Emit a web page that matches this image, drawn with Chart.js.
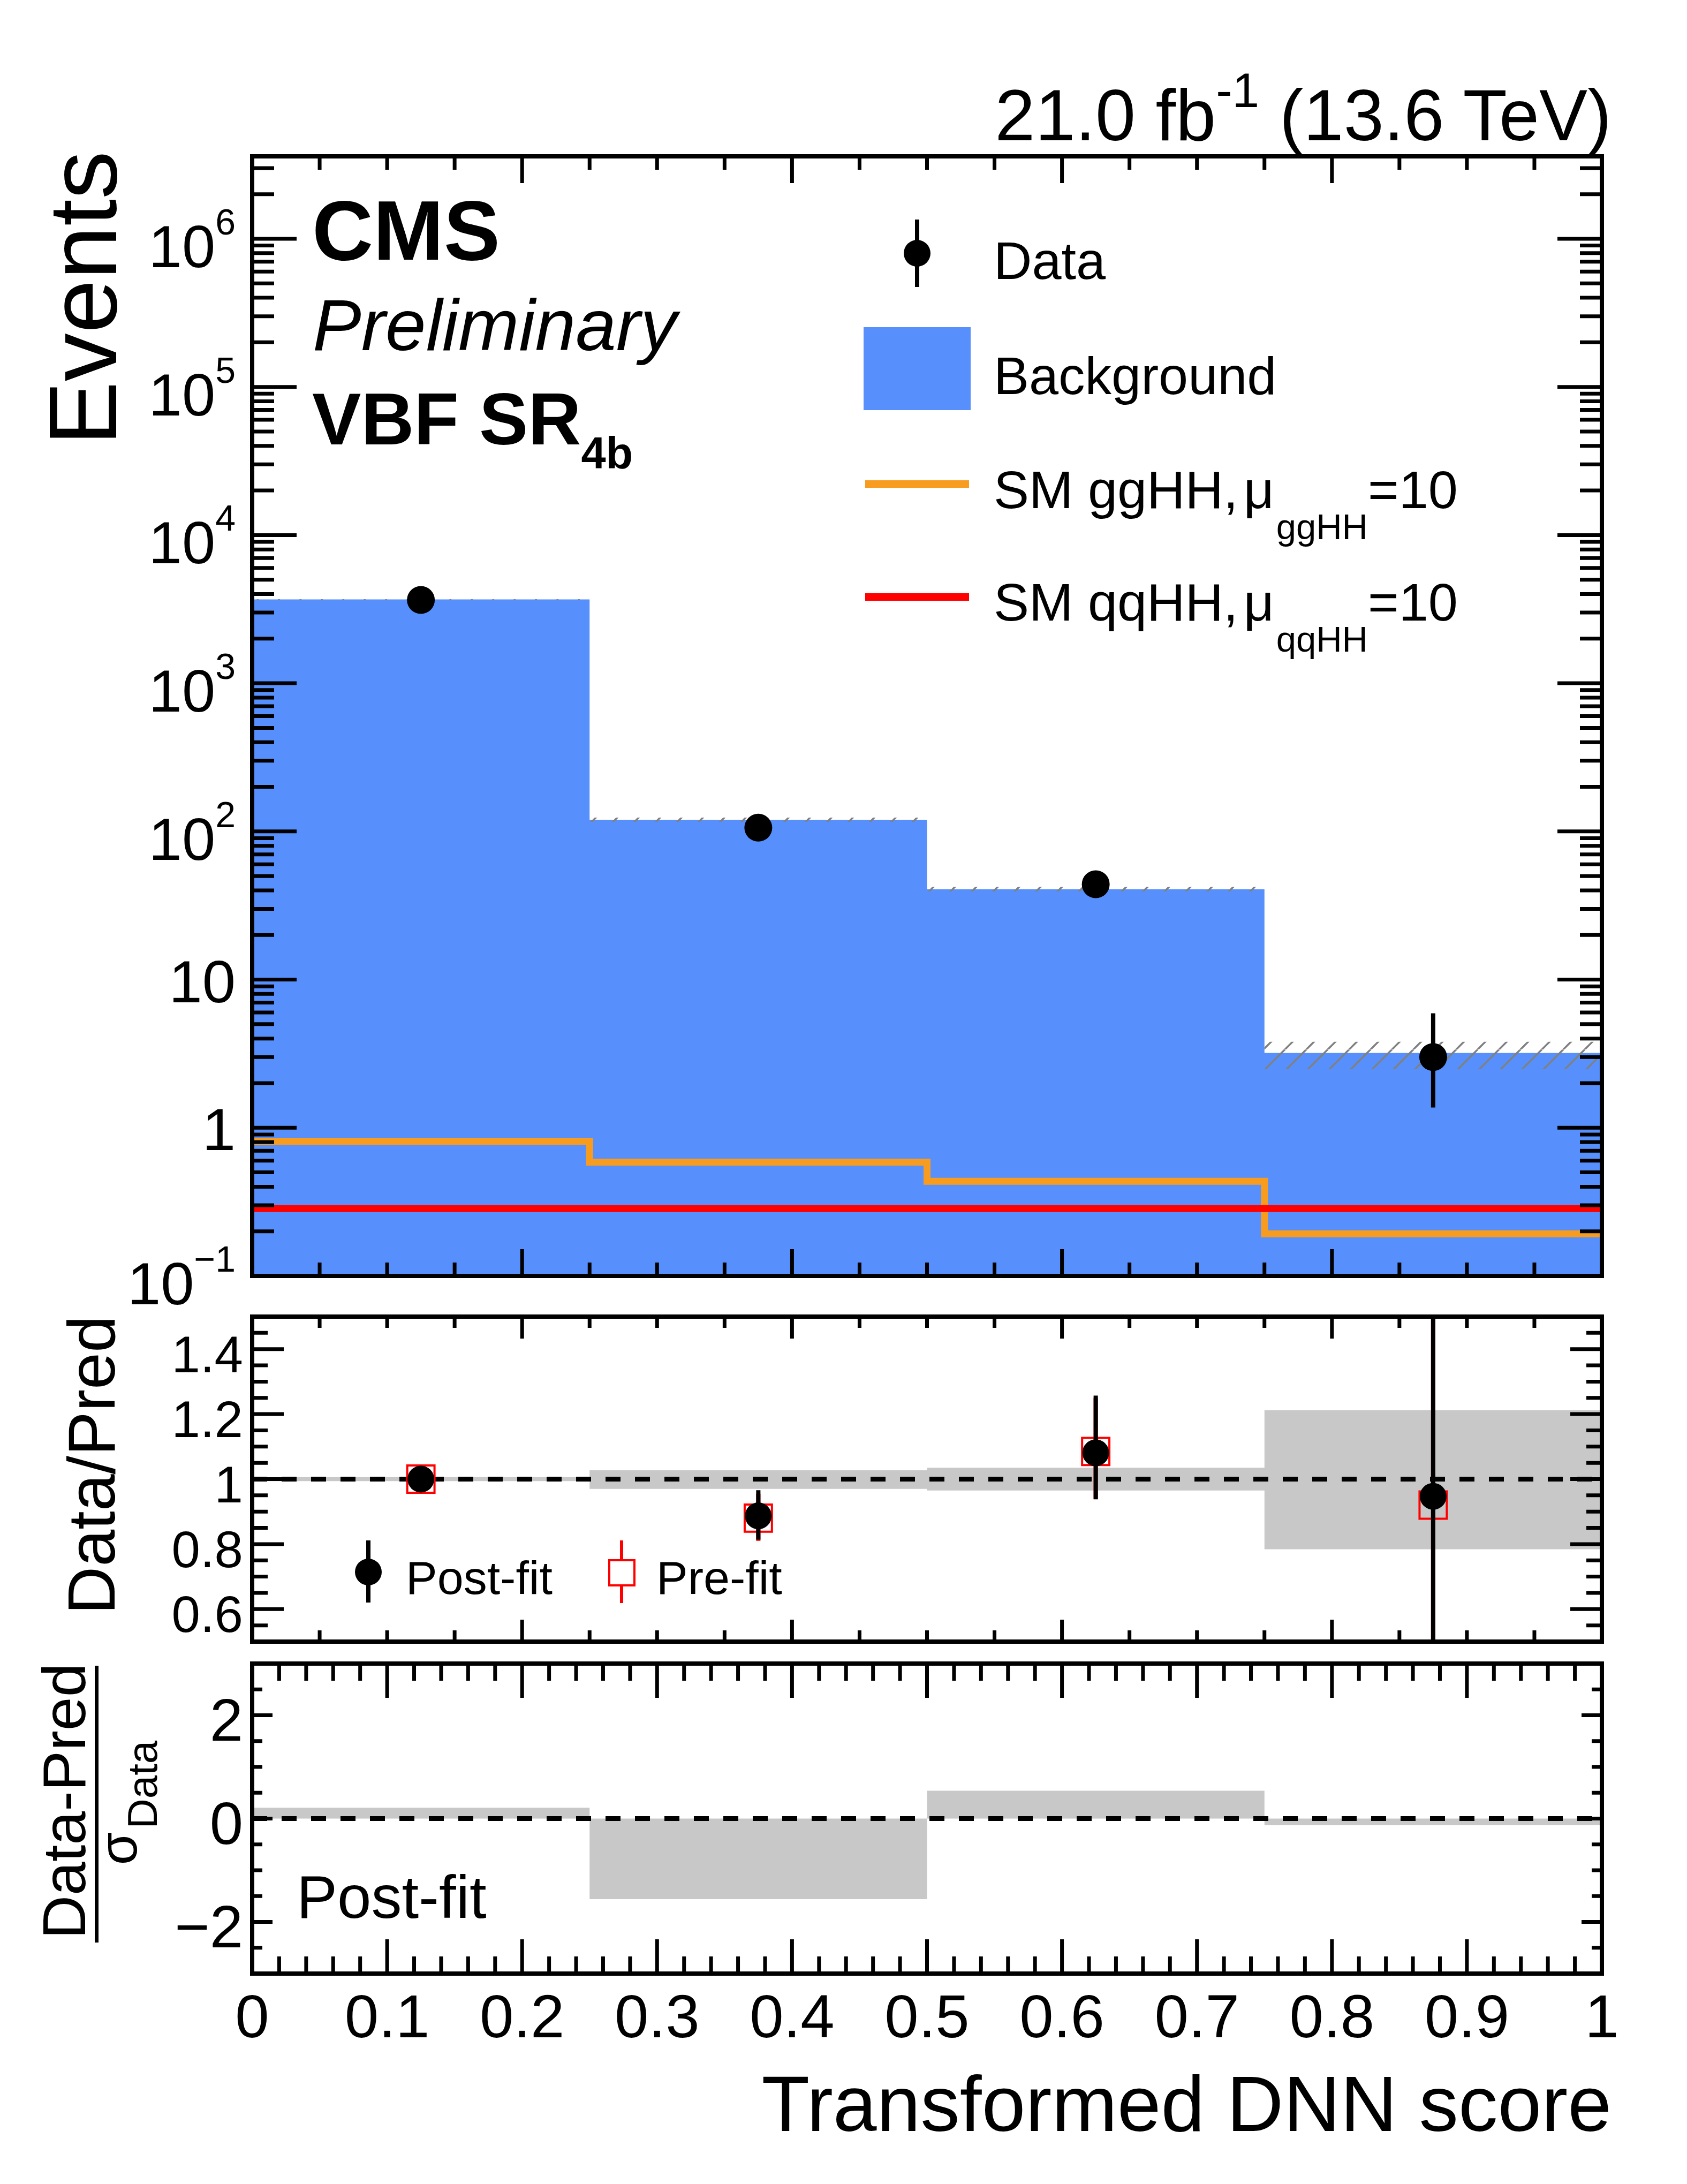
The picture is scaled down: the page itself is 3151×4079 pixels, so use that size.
<!DOCTYPE html>
<html>
<head>
<meta charset="utf-8">
<script src="https://cdn.jsdelivr.net/npm/chart.js@4.4.1/dist/chart.umd.min.js"></script>
<style>
  html, body { margin: 0; padding: 0; background: #fff; }
  #page { position: relative; width: 3151px; height: 4079px; overflow: hidden; background: #fff;
          font-family: "Liberation Sans", Arial, Helvetica, sans-serif; color: #000; }
  canvas { position: absolute; left: 0; }
  .lbl { position: absolute; width: 0; height: 0; transform-origin: 0 0; }
  .lbl > div { position: absolute; left: 0; white-space: nowrap; line-height: 1; }
  .sym { position: absolute; box-sizing: border-box; }
</style>
</head>
<body>
<div id="page">
  <canvas id="main" width="3151" height="2470" style="top:0px"></canvas>
  <canvas id="ratio" width="3151" height="650" style="top:2440px"></canvas>
  <canvas id="pull" width="3151" height="760" style="top:3090px"></canvas>
</div>
<script>
// ---- data ----
const binEdges = [0, 0.25, 0.5, 0.75, 1];
const binCenters = [0.125, 0.375, 0.625, 0.875];

const dataCounts = [3650, 106, 44, 3];
const dataErrLow = [3590, 95.7, 37.4, 1.37];
const dataErrHigh = [3711, 117.3, 51.7, 5.92];

const bkgYield = [3680, 120, 40.7, 3.2];
const bkgUncUp = [3700, 124, 42.2, 3.8];
const bkgUncDown = [3660, 116, 39.3, 2.48];

const ggHHYield = [0.81, 0.586, 0.435, 0.192];
const qqHHYield = [0.285, 0.285, 0.285, 0.285];

const ratioPostfit = [1.0, 0.887, 1.081, 0.947];
const ratioPostLow = [0.983, 0.814, 0.938, 0.43];
const ratioPostHigh = [1.017, 0.966, 1.257, 1.87];
const ratioPrefit = [1.0, 0.88, 1.085, 0.92];
const ratioPreLow = [0.983, 0.81, 0.94, 0.42];
const ratioPreHigh = [1.017, 0.955, 1.25, 1.84];
const ratioBandUp = [1.006, 1.027, 1.035, 1.212];
const ratioBandDown = [0.994, 0.970, 0.965, 0.784];

const pullPostfit = [0.21, -1.56, 0.54, -0.13];

const mainTickVals = [0.1, 1, 10, 100, 1000, 1e4, 1e5, 1e6];
const mainTickBase = ['10', '1', '10', '10', '10', '10', '10', '10'];
const mainTickExp = ['\u22121', '', '', '2', '3', '4', '5', '6'];
const ratioTickVals = [0.6, 0.8, 1.0, 1.2, 1.4];
const ratioTickLabels = ['0.6', '0.8', '1', '1.2', '1.4'];
const pullTickVals = [-2, 0, 2];
const pullTickLabels = ['\u22122', '0', '2'];
const xTickVals = [0, 0.1, 0.2, 0.3, 0.4, 0.5, 0.6, 0.7, 0.8, 0.9, 1];
const xTickLabels = ['0', '0.1', '0.2', '0.3', '0.4', '0.5', '0.6', '0.7', '0.8', '0.9', '1'];

// ---- helpers ----
const FONT = '"Liberation Sans", Arial, sans-serif';
const clear = 'rgba(0,0,0,0)';
// histogram outline: each bin value holds from its left edge to the next edge
const steps = vals => binEdges.map((x, i) => ({ x, y: vals[Math.min(i, vals.length - 1)] }));
const points = vals => binCenters.map((x, i) => ({ x, y: vals[i] }));
const flat = v => [{ x: binEdges[0], y: v }, { x: binEdges[binEdges.length - 1], y: v }];

function hatch() {
  const s = 40;
  const c = document.createElement('canvas');
  c.width = s; c.height = s;
  const g = c.getContext('2d');
  g.strokeStyle = '#808080';
  g.lineWidth = 3.5;
  g.beginPath();
  for (let k = -1; k <= 1; k++) { g.moveTo(k * s, s); g.lineTo(k * s + s, 0); }
  g.stroke();
  return g.createPattern(c, 'repeat');
}

function linTicks(min, max, minor, major) {
  const out = [];
  const n = Math.round((max - min) / minor);
  for (let i = 0; i <= n; i++) {
    const v = min + i * minor;
    const r = v / major;
    out.push({ v, major: Math.abs(r - Math.round(r)) < 1e-6 });
  }
  return out;
}

function logTicks(min, max) {
  const out = [];
  for (let e = Math.floor(Math.log10(min)); e <= Math.ceil(Math.log10(max)); e++) {
    for (let k = 1; k <= 9; k++) {
      const v = k * Math.pow(10, e);
      if (v >= min * 0.999 && v <= max) out.push({ v, major: k === 1 });
    }
  }
  return out;
}

const errorBars = {
  id: 'errorBars',
  beforeDatasetDraw(chart, args) {
    const ds = chart.data.datasets[args.index];
    if (!ds.errLo) return;
    const { ctx, chartArea: a } = chart;
    const y = chart.scales.y;
    ctx.save();
    ctx.beginPath();
    ctx.rect(a.left, a.top, a.right - a.left, a.bottom - a.top);
    ctx.clip();
    ctx.strokeStyle = ds.errColor;
    ctx.lineWidth = 8;
    ctx.beginPath();
    args.meta.data.forEach((pt, i) => {
      ctx.moveTo(pt.x, y.getPixelForValue(ds.errLo[i]));
      ctx.lineTo(pt.x, y.getPixelForValue(ds.errHi[i]));
    });
    ctx.stroke();
    ctx.restore();
  }
};

function framePlugin(cfg) {
  return {
    id: 'frame',
    afterDatasetsDraw(chart) {
      const { ctx, chartArea: a } = chart;
      const xs = chart.scales.x, ys = chart.scales.y;
      ctx.save();
      ctx.strokeStyle = '#000';
      ctx.lineWidth = 7;
      ctx.beginPath();
      linTicks(xs.min, xs.max, cfg.xMinor, cfg.xMajor).forEach(t => {
        const px = xs.getPixelForValue(t.v);
        const len = t.major ? cfg.xMajorLen : cfg.xMinorLen;
        ctx.moveTo(px, a.bottom); ctx.lineTo(px, a.bottom - len);
        ctx.moveTo(px, a.top); ctx.lineTo(px, a.top + len);
      });
      cfg.yTicks.forEach(t => {
        const py = ys.getPixelForValue(t.v);
        const len = t.major ? cfg.yMajorLen : cfg.yMinorLen;
        ctx.moveTo(a.left, py); ctx.lineTo(a.left + len, py);
        ctx.moveTo(a.right, py); ctx.lineTo(a.right - len, py);
      });
      ctx.stroke();
      ctx.lineWidth = 8;
      ctx.strokeRect(a.left, a.top, a.right - a.left, a.bottom - a.top);

      ctx.fillStyle = '#000';
      ctx.textAlign = 'left';
      ctx.textBaseline = 'alphabetic';
      cfg.yVals.forEach((v, i) => {
        const py = ys.getPixelForValue(v);
        const base = cfg.yBase[i], exp = cfg.yExp ? cfg.yExp[i] : '';
        ctx.font = `${cfg.supFont}px ${FONT}`;
        const ws = exp ? ctx.measureText(exp).width : 0;
        ctx.font = `${cfg.yFont}px ${FONT}`;
        const wb = ctx.measureText(base).width;
        const bl = py + (exp ? cfg.yDyExp : cfg.yDy);
        ctx.fillText(base, cfg.yRight - ws - wb, bl);
        if (exp) {
          ctx.font = `${cfg.supFont}px ${FONT}`;
          ctx.fillText(exp, cfg.yRight - ws, bl - cfg.supRaise);
        }
      });
      if (cfg.xVals) {
        ctx.textAlign = 'center';
        ctx.font = `${cfg.xFont}px ${FONT}`;
        cfg.xVals.forEach((v, i) => {
          ctx.fillText(cfg.xLabels[i], xs.getPixelForValue(v), a.bottom + cfg.xDy);
        });
      }
      ctx.restore();
    }
  };
}

function baseOptions(yScale, pad) {
  return {
    responsive: false,
    animation: false,
    devicePixelRatio: 1,
    events: [],
    layout: { padding: pad, autoPadding: false },
    plugins: { legend: { display: false }, tooltip: { enabled: false } },
    scales: {
      x: { type: 'linear', min: 0, max: 1, display: false },
      y: Object.assign({ display: false }, yScale)
    }
  };
}

// ---- main panel ----
const mainMax = 3.6e6;
new Chart(document.getElementById('main'), {
  type: 'line',
  data: {
    datasets: [
      { label: 'Data', data: points(dataCounts), showLine: false, pointRadius: 26, pointHoverRadius: 26,
        pointBackgroundColor: '#000', pointBorderWidth: 0, errLo: dataErrLow, errHi: dataErrHigh, errColor: '#000', order: 0 },
      { label: 'SM qqHH', data: steps(qqHHYield), stepped: 'before', borderColor: '#ff0000', borderWidth: 13,
        pointRadius: 0, fill: false, order: 1 },
      { label: 'SM ggHH', data: steps(ggHHYield), stepped: 'before', borderColor: '#f89c20', borderWidth: 13,
        pointRadius: 0, fill: false, order: 2 },
      { label: 'Unc up', data: steps(bkgUncUp), stepped: 'before', borderColor: clear, borderWidth: 0,
        pointRadius: 0, fill: '+1', backgroundColor: hatch(), order: 3 },
      { label: 'Unc down', data: steps(bkgUncDown), stepped: 'before', borderColor: clear, borderWidth: 0,
        pointRadius: 0, fill: false, order: 4 },
      { label: 'Background', data: steps(bkgYield), stepped: 'before', borderColor: clear, borderWidth: 0,
        pointRadius: 0, fill: 'start', backgroundColor: '#5790fc', order: 5 }
    ]
  },
  options: baseOptions({ type: 'logarithmic', min: 0.1, max: mainMax },
    { top: 292, left: 471, right: 159, bottom: 87 }),
  plugins: [errorBars, framePlugin({
    xMinor: 0.05, xMajor: 0.2, xMajorLen: 50, xMinorLen: 25,
    yTicks: logTicks(0.1, mainMax), yMajorLen: 83, yMinorLen: 41,
    yVals: mainTickVals, yBase: mainTickBase, yExp: mainTickExp,
    yFont: 112, supFont: 68, supRaise: 61, yRight: 440, yDy: 42, yDyExp: 53
  })]
});

// ---- ratio panel ----
new Chart(document.getElementById('ratio'), {
  type: 'line',
  data: {
    datasets: [
      { label: 'Post-fit', data: points(ratioPostfit), showLine: false, pointRadius: 25, pointHoverRadius: 25,
        pointBackgroundColor: '#000', pointBorderWidth: 0, errLo: ratioPostLow, errHi: ratioPostHigh, errColor: '#000', order: 0 },
      { label: 'Pre-fit', data: points(ratioPrefit), showLine: false, pointStyle: 'rect', pointRadius: 36, pointHoverRadius: 36,
        pointBackgroundColor: clear, pointBorderColor: '#ff0000', pointBorderWidth: 4,
        errLo: ratioPreLow, errHi: ratioPreHigh, errColor: '#ff0000', order: 1 },
      { label: 'Unity', data: flat(1), borderColor: '#000', borderWidth: 9, borderDash: [28, 27],
        pointRadius: 0, fill: false, order: 2 },
      { label: 'Band up', data: steps(ratioBandUp), stepped: 'before', borderColor: clear, borderWidth: 0,
        pointRadius: 0, fill: '+1', backgroundColor: '#c8c8c8', order: 3 },
      { label: 'Band down', data: steps(ratioBandDown), stepped: 'before', borderColor: clear, borderWidth: 0,
        pointRadius: 0, fill: false, order: 4 }
    ]
  },
  options: baseOptions({ type: 'linear', min: 0.5, max: 1.5 },
    { top: 19, left: 471, right: 159, bottom: 24 }),
  plugins: [errorBars, framePlugin({
    xMinor: 0.05, xMajor: 0.2, xMajorLen: 41, xMinorLen: 21,
    yTicks: linTicks(0.5, 1.5, 0.05, 0.2), yMajorLen: 59, yMinorLen: 29,
    yVals: ratioTickVals, yBase: ratioTickLabels, yFont: 96, supFont: 60, supRaise: 0,
    yRight: 454, yDy: 43, yDyExp: 43
  })]
});

// ---- pull panel ----
new Chart(document.getElementById('pull'), {
  type: 'line',
  data: {
    datasets: [
      { label: 'Zero', data: flat(0), borderColor: '#000', borderWidth: 9, borderDash: [28, 27],
        pointRadius: 0, fill: false, order: 0 },
      { label: 'Pull', data: steps(pullPostfit), stepped: 'before', borderColor: clear, borderWidth: 0,
        pointRadius: 0, fill: 'origin', backgroundColor: '#c8c8c8', order: 1 }
    ]
  },
  options: baseOptions({ type: 'linear', min: -3, max: 3 },
    { top: 17, left: 471, right: 159, bottom: 164 }),
  plugins: [framePlugin({
    xMinor: 0.02, xMajor: 0.1, xMajorLen: 64, xMinorLen: 32,
    yTicks: linTicks(-3, 3, 0.5, 2), yMajorLen: 38, yMinorLen: 19,
    yVals: pullTickVals, yBase: pullTickLabels, yFont: 112, supFont: 60, supRaise: 0,
    yRight: 454, yDy: 47, yDyExp: 47,
    xVals: xTickVals, xLabels: xTickLabels, xFont: 114, xDy: 119
  })]
});

// ---- text and legend symbols ----
const page = document.getElementById('page');
function label(html, x, y, size, opts = {}) {
  const wrap = document.createElement('div');
  wrap.className = 'lbl';
  wrap.style.left = x + 'px';
  wrap.style.top = y + 'px';
  if (opts.rotate) wrap.style.transform = 'rotate(-90deg)';
  const inner = document.createElement('div');
  inner.innerHTML = html;
  inner.style.fontSize = size + 'px';
  inner.style.top = (-0.8465 * size) + 'px';
  if (opts.weight) inner.style.fontWeight = opts.weight;
  if (opts.italic) inner.style.fontStyle = 'italic';
  const shift = { left: '0', center: '-50%', right: '-100%' }[opts.align || 'left'];
  inner.style.transform = `translateX(${shift})`;
  wrap.appendChild(inner);
  page.appendChild(wrap);
}
function sym(x, y, w, h, css) {
  const d = document.createElement('div');
  d.className = 'sym';
  Object.assign(d.style, { left: x + 'px', top: y + 'px', width: w + 'px', height: h + 'px' }, css);
  page.appendChild(d);
}
const sup = (t, size, raise) => `<span style="font-size:${size}px;position:relative;top:-${raise}px">${t}</span>`;
const sub = (t, size, drop, extra = '') => `<span style="font-size:${size}px;position:relative;top:${drop}px;${extra}">${t}</span>`;

label(`21.0 fb${sup('-1', 91, 62)} (13.6 TeV)`, 3010, 262, 135, { align: 'right' });
label('CMS', 583, 485, 158, { weight: 'bold' });
label('Preliminary', 584, 654, 136, { italic: true });
label(`VBF SR${sub('4b', 83, 45)}`, 583, 830, 137, { weight: 'bold' });
label('Events', 217, 282, 180, { rotate: true, align: 'right' });

// main legend
sym(1709, 410, 8, 126, { background: '#000' });
sym(1688, 448, 50, 50, { background: '#000', borderRadius: '50%' });
label('Data', 1856, 521, 99);
sym(1613, 611, 200, 155, { background: '#5790fc' });
label('Background', 1856, 736, 99);
sym(1616, 897, 194, 14, { background: '#f89c20' });
label(`SM ggHH,<span style="margin-left:10px">\u03bc</span>${sub('ggHH', 67, 58, 'margin-left:4px')}=10`, 1856, 949, 99);
sym(1616, 1108, 194, 14, { background: '#ff0000' });
label(`SM qqHH,<span style="margin-left:10px">\u03bc</span>${sub('qqHH', 67, 58, 'margin-left:4px')}=10`, 1856, 1159, 99);

// ratio panel
label('Data/Pred', 214, 2457, 124, { rotate: true, align: 'right' });
sym(684, 2877, 8, 116, { background: '#000' });
sym(663, 2911, 50, 50, { background: '#000', borderRadius: '50%' });
label('Post-fit', 758, 2977, 88);
sym(1158, 2877, 6, 36, { background: '#ff0000' });
sym(1158, 2961, 6, 33, { background: '#ff0000' });
sym(1136, 2912, 51, 51, { border: '4px solid #ff0000' });
label('Pre-fit', 1226, 2977, 88);

// pull panel
label('Data-Pred', 160, 3364, 113, { rotate: true, align: 'center' });
sym(177, 3111, 7, 517, { background: '#000' });
label(`\u03c3${sub('Data', 78, 38, 'margin-left:6px')}`, 255, 3367, 100, { rotate: true, align: 'center' });
label('Post-fit', 554, 3582, 114);

label('Transformed DNN score', 3010, 3980, 147, { align: 'right' });
</script>
</body>
</html>
